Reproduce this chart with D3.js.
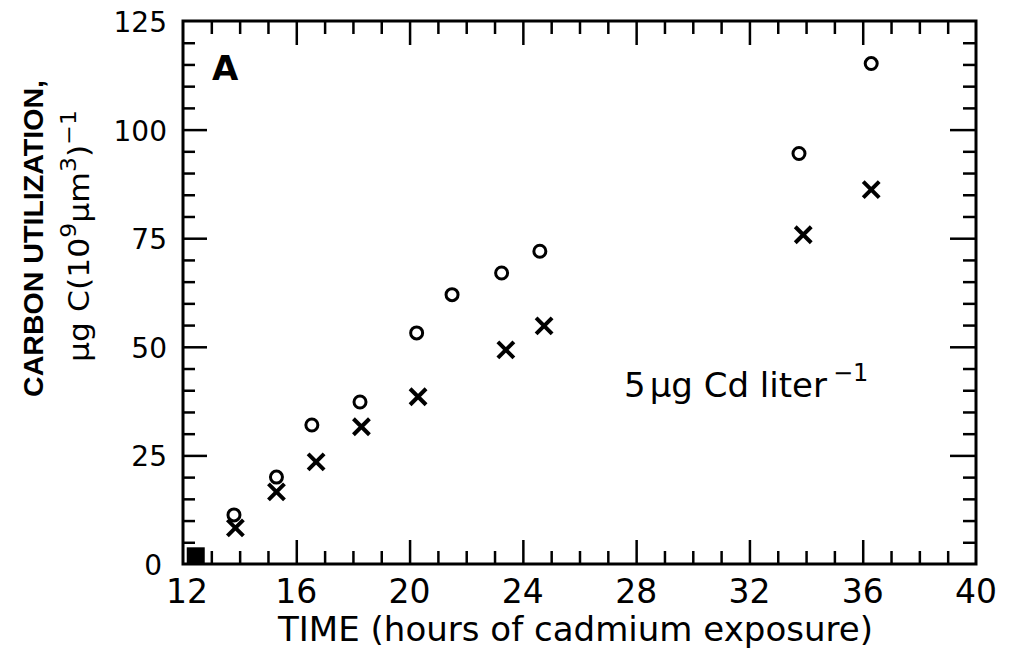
<!DOCTYPE html>
<html><head><meta charset="utf-8">
<script src="https://cdn.jsdelivr.net/npm/d3@7"></script>
<style>body{margin:0;background:#fff}svg{display:block}text{font-family:"DejaVu Sans",sans-serif;fill:#000}</style>
</head><body><svg id="c" width="1010" height="653"></svg>
<script>
// Data (hours of cadmium exposure, carbon utilization)
const circleX = [13.8, 15.3, 16.55, 18.25, 20.25, 21.5, 23.25, 24.6, 33.75, 36.3];
const circleY = [11.3, 20, 32, 37.3, 53.2, 62, 67, 72, 94.5, 115.2];
const crossX = [13.85, 15.3, 16.7, 18.3, 20.3, 23.4, 24.75, 33.9, 36.3];
const crossY = [8.3, 16.6, 23.5, 31.6, 38.5, 49.3, 54.8, 75.8, 86.2];
const overlapX = [12.45];
const overlapY = [2];
const xTicks = [12, 16, 20, 24, 28, 32, 36, 40];
const yTicks = [0, 25, 50, 75, 100, 125];

const svg = d3.select("#c");
const x = d3.scaleLinear().domain([12, 40]).range([183, 976]);
const y = d3.scaleLinear().domain([0, 125]).range([564, 21]);

const frameW = 3;
// frame
svg.append("rect").attr("x", x(12)).attr("y", y(125)).attr("width", x(40) - x(12)).attr("height", y(0) - y(125))
  .attr("fill", "none").attr("stroke", "#000").attr("stroke-width", frameW);

const xMinor = d3.range(13, 40).filter(v => v % 4 !== 0);
const yMinor = d3.range(5, 125, 5).filter(v => v % 25 !== 0);

function styleAxis(g){ g.select(".domain").remove(); g.selectAll("line").attr("stroke","#000").attr("stroke-width",2.5); g.selectAll("text").remove(); }

// bottom axis (ticks inward)
svg.append("g").attr("transform", `translate(0,${y(0)})`).call(d3.axisBottom(x).tickValues(xTicks.slice(1,-1)).tickSizeInner(-24).tickSizeOuter(0)).call(styleAxis);
svg.append("g").attr("transform", `translate(0,${y(0)})`).call(d3.axisBottom(x).tickValues(xMinor).tickSizeInner(-13).tickSizeOuter(0)).call(styleAxis);
// top axis
svg.append("g").attr("transform", `translate(0,${y(125)})`).call(d3.axisTop(x).tickValues(xTicks.slice(1,-1)).tickSizeInner(-24).tickSizeOuter(0)).call(styleAxis);
svg.append("g").attr("transform", `translate(0,${y(125)})`).call(d3.axisTop(x).tickValues(xMinor).tickSizeInner(-13).tickSizeOuter(0)).call(styleAxis);
// left axis
svg.append("g").attr("transform", `translate(${x(12)},0)`).call(d3.axisLeft(y).tickValues(yTicks.slice(1,-1)).tickSizeInner(-24).tickSizeOuter(0)).call(styleAxis);
svg.append("g").attr("transform", `translate(${x(12)},0)`).call(d3.axisLeft(y).tickValues(yMinor).tickSizeInner(-12).tickSizeOuter(0)).call(styleAxis);
// right axis
svg.append("g").attr("transform", `translate(${x(40)},0)`).call(d3.axisRight(y).tickValues(yTicks.slice(1,-1)).tickSizeInner(-26).tickSizeOuter(0)).call(styleAxis);
svg.append("g").attr("transform", `translate(${x(40)},0)`).call(d3.axisRight(y).tickValues(yMinor).tickSizeInner(-13).tickSizeOuter(0)).call(styleAxis);

// tick labels
svg.append("g").selectAll("text").data(xTicks).join("text")
  .attr("x", d => x(d) + (d === 12 ? 4 : 0)).attr("y", 603).attr("text-anchor", "middle").attr("font-size", 33).text(d => d);
svg.append("g").selectAll("text").data(yTicks).join("text")
  .attr("x", d => d === 0 ? 162 : 167).attr("y", d => y(d) + 11).attr("text-anchor", "end").attr("font-size", 28).text(d => d);

// markers
svg.append("g").selectAll("circle").data(circleX.map((v,i)=>[v,circleY[i]])).join("circle")
  .attr("cx", d => x(d[0])).attr("cy", d => y(d[1])).attr("r", 6)
  .attr("fill", "none").attr("stroke", "#000").attr("stroke-width", 3);
const cs = 8;
svg.append("g").selectAll("path").data(crossX.map((v,i)=>[v,crossY[i]])).join("path")
  .attr("d", d => { const cx = x(d[0]), cy = y(d[1]); return `M${cx-cs},${cy-cs}L${cx+cs},${cy+cs}M${cx-cs},${cy+cs}L${cx+cs},${cy-cs}`; })
  .attr("stroke", "#000").attr("stroke-width", 4).attr("fill", "none");
svg.append("g").selectAll("rect").data(overlapX.map((v,i)=>[v,overlapY[i]])).join("rect")
  .attr("x", d => x(d[0]) - 9).attr("y", d => y(d[1]) - 8).attr("width", 18).attr("height", 16).attr("fill", "#000");

// panel label
svg.append("text").attr("x", 212).attr("y", 80).attr("font-size", 34).attr("font-weight", "bold").text("A");

// annotation
const ann = svg.append("text").attr("x", 624).attr("y", 397).attr("font-size", 34);
ann.append("tspan").text("5");
ann.append("tspan").attr("dx", 4).text("μg Cd liter");
ann.append("tspan").attr("dx", 6).attr("dy", -16).attr("font-size", 24).text("−1");

// x title
svg.append("text").attr("x", 278).attr("y", 641).attr("font-size", 33).attr("textLength", 595).attr("lengthAdjust", "spacingAndGlyphs")
  .text("TIME (hours of cadmium exposure)");

// y title
svg.append("text").attr("transform", "translate(43,397) rotate(-90)")
  .style("font-family", "'Liberation Sans', Arial, sans-serif").attr("font-size", 28).attr("font-weight", "bold")
  .attr("textLength", 317).attr("lengthAdjust", "spacingAndGlyphs").text("CARBON  UTILIZATION,");
const yt = svg.append("text").attr("transform", "translate(89,362) rotate(-90)").attr("font-size", 28)
  .attr("textLength", 252).attr("lengthAdjust", "spacingAndGlyphs");
yt.append("tspan").text("μg C(10");
yt.append("tspan").attr("dy", -13).attr("font-size", 21).text("9");
yt.append("tspan").attr("dy", 13).text("μm");
yt.append("tspan").attr("dy", -13).attr("font-size", 21).text("3");
yt.append("tspan").attr("dy", 13).text(")");
yt.append("tspan").attr("dy", -13).attr("font-size", 21).text("−1");
</script></body></html>
